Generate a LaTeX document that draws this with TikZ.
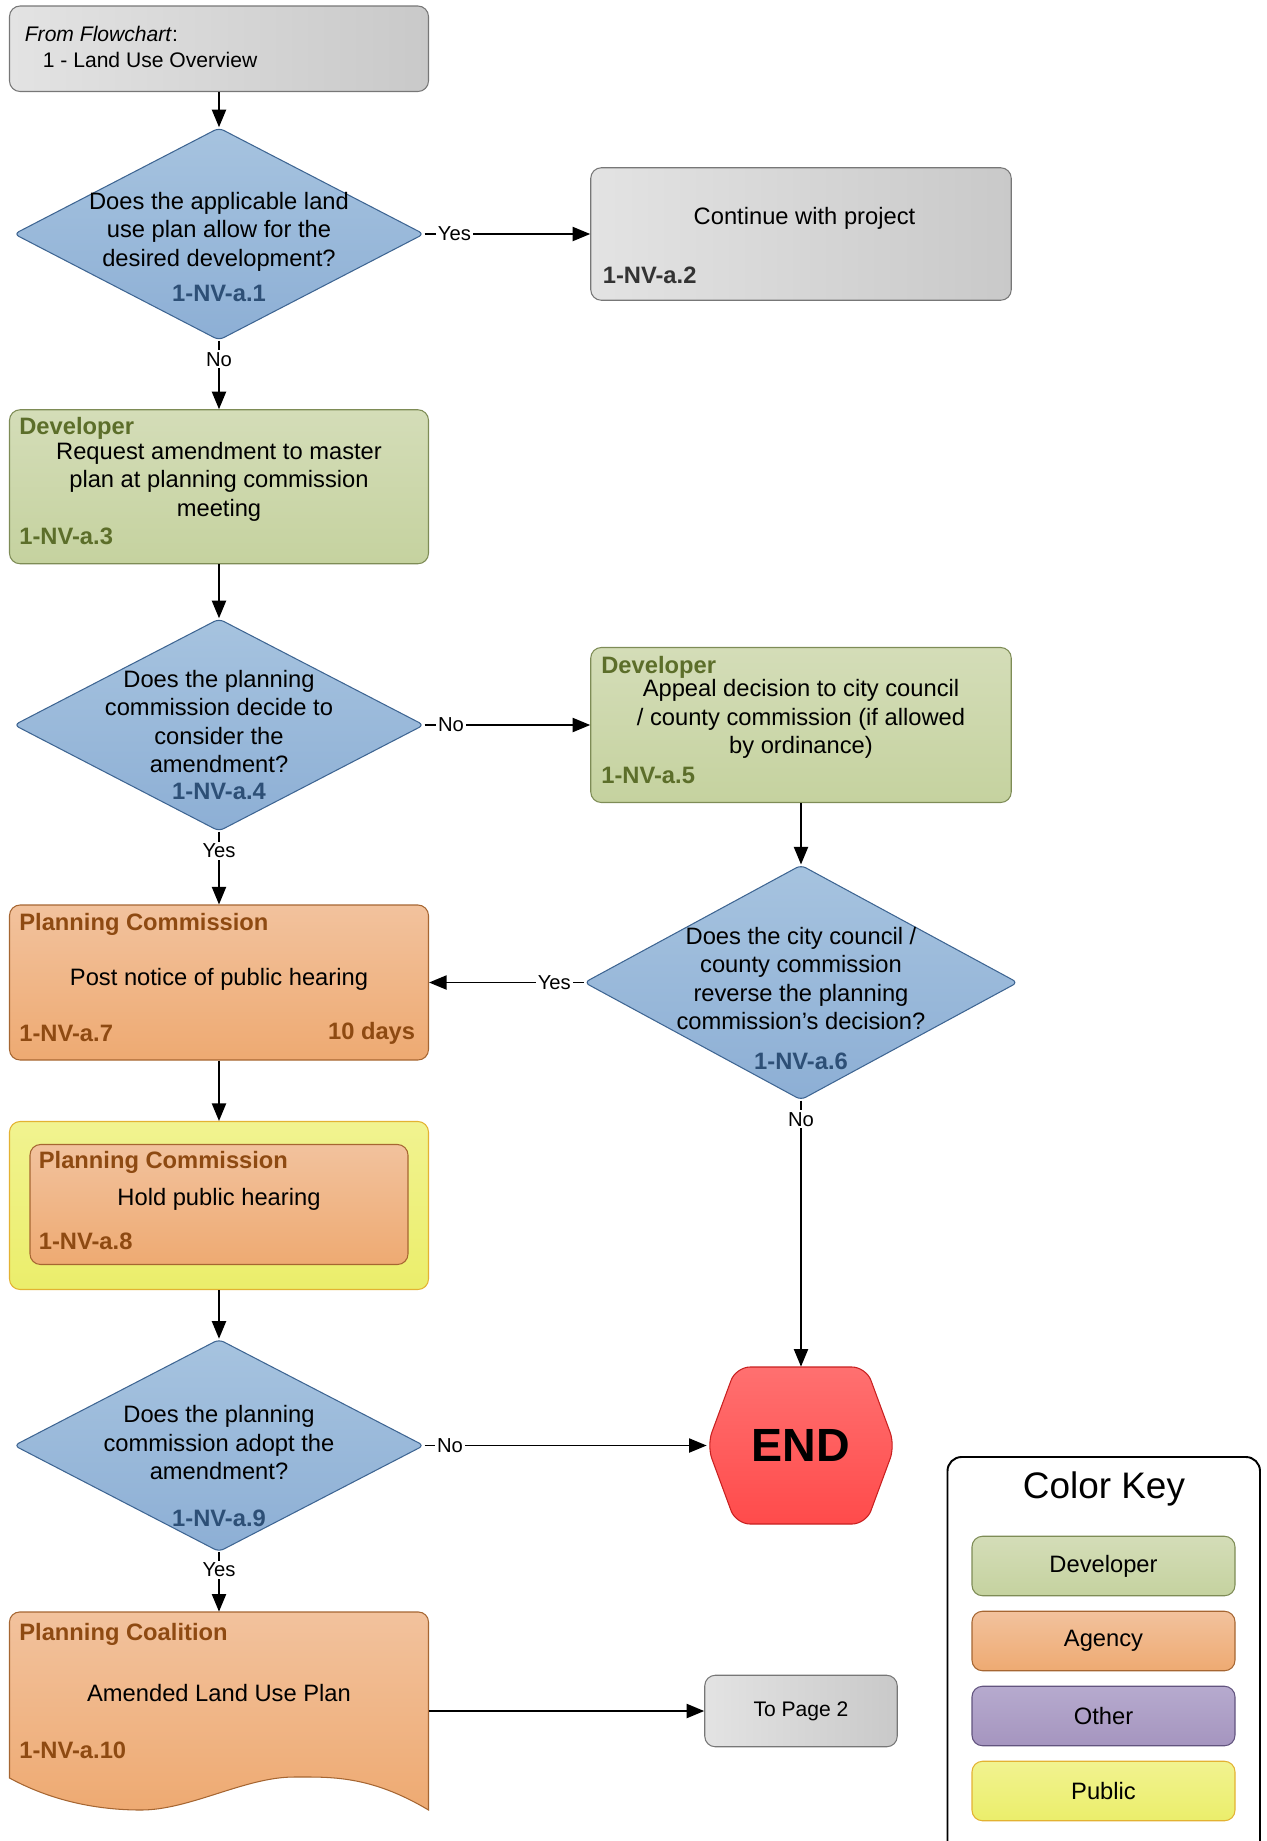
\documentclass[tikz,border=0pt]{standalone}
\usepackage{fontspec}
\setmainfont{Liberation Sans}
\usetikzlibrary{shapes.geometric, arrows.meta}

\definecolor{dectop}{HTML}{A6C3DF}
\definecolor{decbot}{HTML}{8DAFD5}
\definecolor{decline}{HTML}{3E6592}
\definecolor{decid}{HTML}{2D4F76}
\definecolor{devtop}{HTML}{D4DDB8}
\definecolor{devbot}{HTML}{C5D29F}
\definecolor{devline}{HTML}{7E8C56}
\definecolor{devid}{HTML}{5C6E2A}
\definecolor{agtop}{HTML}{F2C29D}
\definecolor{agbot}{HTML}{EEAA72}
\definecolor{agline}{HTML}{A66632}
\definecolor{agid}{HTML}{8E4A12}
\definecolor{pubtop}{HTML}{F1F390}
\definecolor{pubbot}{HTML}{EBEE6B}
\definecolor{publine}{HTML}{E3B232}
\definecolor{othtop}{HTML}{B6AACE}
\definecolor{othbot}{HTML}{A595BF}
\definecolor{othline}{HTML}{62547F}
\definecolor{endtop}{HTML}{FF7070}
\definecolor{endbot}{HTML}{FF4B4B}
\definecolor{endline}{HTML}{C82020}
\definecolor{greyleft}{HTML}{E3E3E3}
\definecolor{greyright}{HTML}{C9C9C9}
\definecolor{greyline}{HTML}{777777}
\definecolor{greyid}{HTML}{333333}

\tikzset{
    every node/.style={font=\fontsize{13.5}{16.3}\selectfont},
    greybox/.style={rectangle, rounded corners=6pt, draw=greyline, line width=0.6pt, left color=greyleft, right color=greyright},
    devbox/.style={rectangle, rounded corners=6pt, draw=devline, line width=0.6pt, top color=devtop, bottom color=devbot},
    agbox/.style={rectangle, rounded corners=6pt, draw=agline, line width=0.6pt, top color=agtop, bottom color=agbot},
    pubbox/.style={rectangle, rounded corners=6pt, draw=publine, line width=0.6pt, top color=pubtop, bottom color=pubbot},
    othbox/.style={rectangle, rounded corners=6pt, draw=othline, line width=0.6pt, top color=othtop, bottom color=othbot},
    decision/.style={diamond, draw=decline, line width=0.6pt, top color=dectop, bottom color=decbot, inner sep=0pt, rounded corners=3pt},
    txt/.style={inner sep=0pt, align=center},
    hdr/.style={inner sep=0pt, anchor=west, font=\fontsize{13.5}{16.3}\selectfont\bfseries},
    idtxt/.style={inner sep=0pt, font=\fontsize{13.5}{16.3}\selectfont\bfseries},
    lbl/.style={fill=white, inner sep=1pt, font=\fontsize{11.5}{13}\selectfont},
    flow/.style={->, line width=1.1pt},
    keybox/.style={minimum width=5.26cm, minimum height=1.19cm},
}

\begin{document}
\begin{tikzpicture}[>={Triangle[length=10pt,width=8pt]}]
    \useasboundingbox (0,0) rectangle (25.34,-36.82);

    % start
    \node[greybox, minimum width=8.38cm, minimum height=1.71cm] at (4.38, -0.975) (top) {};
    \node[txt, anchor=west, font=\fontsize{12}{14}\selectfont] at (0.49, -0.68) (topa) {\textit{From Flowchart}:};
    \node[txt, anchor=west, font=\fontsize{12}{14}\selectfont] at (0.85, -1.2) (topb) {1 - Land Use Overview};

    % a.1
    \node[decision, minimum width=8.2cm, minimum height=4.25cm] at (4.38, -4.68) (d1) {};
    \node[txt] at (4.38, -4.63) (d1t) {Does the applicable land\\use plan allow for the\\desired development?};
    \node[idtxt, text=decid] at (4.38, -5.87) (d1id) {1-NV-a.1};

    % a.2
    \node[greybox, minimum width=8.41cm, minimum height=2.65cm] at (16.02, -4.68) (b2) {};
    \node[txt] at (16.09, -4.36) (b2t) {Continue with project};
    \node[idtxt, anchor=west, text=greyid] at (12.05, -5.50) (b2id) {1-NV-a.2};

    % a.3
    \node[devbox, minimum width=8.38cm, minimum height=3.08cm] at (4.38, -9.735) (b3) {};
    \node[hdr, text=devid] at (0.38, -8.57) (b3h) {Developer};
    \node[txt] at (4.38, -9.63) (b3t) {Request amendment to master\\plan at planning commission\\meeting};
    \node[idtxt, anchor=west, text=devid] at (0.38, -10.73) (b3id) {1-NV-a.3};

    % a.4
    \node[decision, minimum width=8.2cm, minimum height=4.25cm] at (4.38, -14.50) (d4) {};
    \node[txt] at (4.38, -14.43) (d4t) {Does the planning\\commission decide to\\consider the\\amendment?};
    \node[idtxt, text=decid] at (4.38, -15.83) (d4id) {1-NV-a.4};

    % a.5
    \node[devbox, minimum width=8.41cm, minimum height=3.1cm] at (16.02, -14.50) (b5) {};
    \node[hdr, text=devid] at (12.02, -13.34) (b5h) {Developer};
    \node[txt] at (16.02, -14.38) (b5t) {Appeal decision to city council\\/ county commission (if allowed\\by ordinance)};
    \node[idtxt, anchor=west, text=devid] at (12.02, -15.50) (b5id) {1-NV-a.5};

    % a.6
    \node[decision, minimum width=8.67cm, minimum height=4.70cm] at (16.02, -19.65) (d6) {};
    \node[txt] at (16.02, -19.57) (d6t) {Does the city council /\\county commission\\reverse the planning\\commission's decision?};
    \node[idtxt, text=decid] at (16.02, -21.23) (d6id) {1-NV-a.6};

    % a.7
    \node[agbox, minimum width=8.38cm, minimum height=3.1cm] at (4.38, -19.65) (b7) {};
    \node[hdr, text=agid] at (0.38, -18.48) (b7h) {Planning Commission};
    \node[txt] at (4.38, -19.59) (b7t) {Post notice of public hearing};
    \node[idtxt, anchor=west, text=agid] at (0.38, -20.67) (b7id) {1-NV-a.7};
    \node[idtxt, anchor=east, text=agid] at (8.31, -20.67) (b7d) {10 days};

    % a.8
    \node[pubbox, minimum width=8.38cm, minimum height=3.36cm] at (4.38, -24.11) (pub) {};
    \node[agbox, minimum width=7.56cm, minimum height=2.40cm] at (4.38, -24.09) (b8) {};
    \node[hdr, text=agid] at (0.77, -23.25) (b8h) {Planning Commission};
    \node[txt] at (4.38, -23.98) (b8t) {Hold public hearing};
    \node[idtxt, anchor=west, text=agid] at (0.77, -24.82) (b8id) {1-NV-a.8};

    % a.9
    \node[decision, minimum width=8.2cm, minimum height=4.25cm] at (4.38, -28.91) (d9) {};
    \node[txt] at (4.38, -28.85) (d9t) {Does the planning\\commission adopt the\\amendment?};
    \node[idtxt, text=decid] at (4.38, -30.37) (d9id) {1-NV-a.9};

    % end
    \draw[shift={(16.02, -28.91)}, draw=endline, line width=0.6pt, top color=endtop, bottom color=endbot, rounded corners=8pt]
        (-1.88, 0) -- (-1.3, 1.57) -- (1.3, 1.57) -- (1.88, 0) -- (1.3, -1.57) -- (-1.3, -1.57) -- cycle;
    \node[minimum width=3.76cm, minimum height=3.14cm, inner sep=0pt, font=\fontsize{26.5}{30}\selectfont\bfseries] at (16.02, -28.91) (end) {END};

    % a.10
    \node[minimum width=8.38cm, minimum height=3.96cm, inner sep=0pt] at (4.38, -34.22) (d10) {};
    \draw[draw=agline, line width=0.6pt, top color=agtop, bottom color=agbot]
        (0.19, -35.56) -- (0.19, -32.44) arc[start angle=180, end angle=90, radius=0.2]
        -- (8.37, -32.24) arc[start angle=90, end angle=0, radius=0.2]
        -- (8.57, -36.2) .. controls (7.4, -35.5) and (6.6, -35.54) .. (5.88, -35.54)
        .. controls (4.9, -35.54) and (3.8, -36.2) .. (2.82, -36.2)
        .. controls (1.9, -36.2) and (1.0, -36.0) .. (0.19, -35.56) -- cycle;
    \node[hdr, text=agid] at (0.38, -32.69) (d10h) {Planning Coalition};
    \node[txt] at (4.38, -33.86) (d10t) {Amended Land Use Plan};
    \node[idtxt, anchor=west, text=agid] at (0.38, -35.01) (d10id) {1-NV-a.10};

    \node[greybox, minimum width=3.85cm, minimum height=1.43cm, font=\fontsize{12}{14}\selectfont] at (16.02, -34.22) (p2) {To Page 2};

    % connectors
    \draw[flow] (top) -- (d1);
    \draw[flow] (d1) -- node[lbl, pos=0.18] {Yes} (b2);
    \draw[flow] (d1) -- node[lbl, pos=0.27] {No} (b3);
    \draw[flow] (b3) -- (d4);
    \draw[flow] (d4) -- node[lbl, pos=0.16] {No} (b5);
    \draw[flow] (d4) -- node[lbl, pos=0.26] {Yes} (b7);
    \draw[flow] (b5) -- (d6);
    \draw[flow] (d6) -- node[lbl, pos=0.19] {Yes} (b7);
    \draw[flow] (d6) -- node[lbl, pos=0.07] {No} (end);
    \draw[flow] (b7) -- (pub);
    \draw[flow] (pub) -- (d9);
    \draw[flow] (d9) -- node[lbl, pos=0.09] {No} (end);
    \draw[flow] (d9) -- node[lbl, pos=0.3] {Yes} (d10);
    \draw[flow] (d10) -- (p2);

    % color key
    \draw[line width=1.1pt, rounded corners=8pt] (18.95, -36.82) -- (18.95, -29.14) -- (25.2, -29.14) -- (25.2, -36.82);
    \node[txt, font=\fontsize{21}{24}\selectfont] at (22.08, -29.78) (keyt) {Color Key};
    \node[devbox, keybox] at (22.07, -31.32) (k1) {Developer};
    \node[agbox, keybox] at (22.07, -32.82) (k2) {Agency};
    \node[othbox, keybox] at (22.07, -34.32) (k3) {Other};
    \node[pubbox, keybox] at (22.07, -35.82) (k4) {Public};
\end{tikzpicture}
\end{document}
